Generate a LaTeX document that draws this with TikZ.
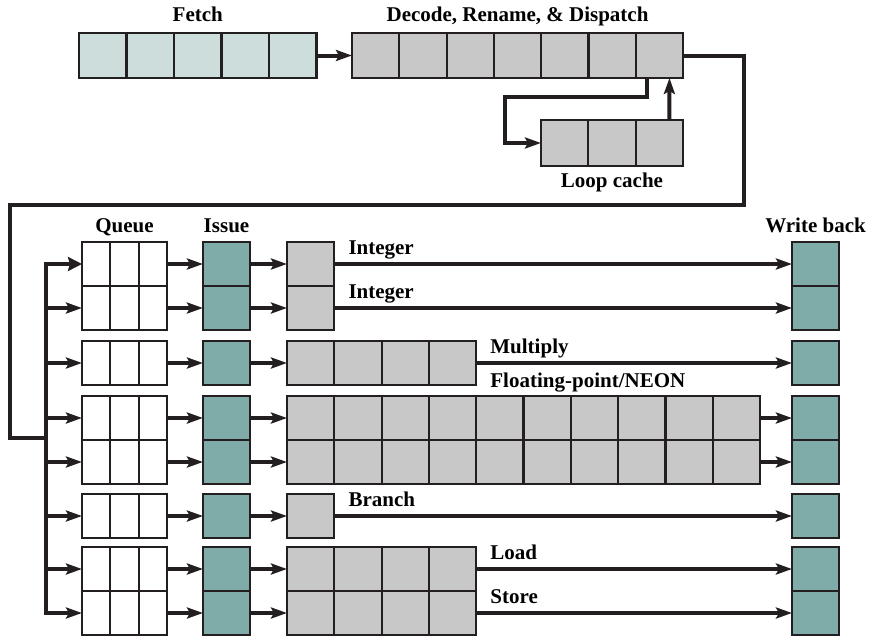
\documentclass[tikz,border=0pt]{standalone}
\usepackage{fontspec}
\setmainfont{Liberation Serif}
\usetikzlibrary{arrows.meta}
\definecolor{fetchfill}{RGB}{205,221,219}
\definecolor{stagegray}{RGB}{200,200,200}
\definecolor{wbteal}{RGB}{127,172,168}
\definecolor{ink}{RGB}{35,31,32}

\begin{document}
\begin{tikzpicture}[x=1pt, y=-1pt, >={Stealth[length=16pt, width=11pt, inset=3pt]},
  font=\fontsize{21}{23}\selectfont\bfseries,
  cell/.style={draw=ink, line width=2.2pt, inner sep=0pt, outer sep=0pt},
  wire/.style={draw=ink, line width=4pt},
  flow/.style={wire, ->},
  bigflow/.style={wire, line cap=rect, -{Stealth[length=14pt, width=14pt, inset=2pt]}},
  lbl/.style={anchor=base west, inner sep=0pt},
  head/.style={anchor=base, inner sep=0pt}]
  \useasboundingbox (0,0) rectangle (874,637);
  % a row of #4 cells named #1-1 ... #1-#4: left edge #2, top #3, cell width #5, height #6, fill #7
  \newcommand{\cellrow}[7]{%
    \foreach \i in {1,...,#4}
      \node[cell, fill=#7, minimum width=#5pt, minimum height=#6pt] (#1-\i)
        at ({#2+(\i-0.5)*#5}, {#3+0.5*#6}) {};
  }
  % ---------------------------------------------------------------- front end
  \cellrow{fetch}{79}{33}{5}{47.5}{45}{fetchfill}
  \cellrow{dec}{352}{33}{7}{47.3}{45}{stagegray}
  \cellrow{loop}{541}{120}{3}{47.3}{46}{stagegray}
  \node[head] at ([yshift=12pt]fetch-3.north) {Fetch};
  \node[head] at ([yshift=12pt]dec-4.north) {Decode, Rename, \& Dispatch};
  \node[head] at ([yshift=-21pt]loop-2.south) {Loop cache};
  \draw[flow] (fetch-5.east) -- (dec-1.west);
  % loop cache in and out
  \coordinate (lc-turn) at (505,97);
  \draw[flow] ([xshift=-12pt]dec-7.south) |- (lc-turn) |- (loop-1.west);
  \draw[flow] ([xshift=10pt]loop-3.north) -- ([xshift=10pt]dec-7.south);
  % round to the issue queues
  \coordinate (rtop) at (744,205);
  \coordinate (ltop) at (10,205);
  \coordinate (join) at (46,438);
  \draw[wire] (dec-7.east) -| (rtop) -- (ltop) |- (join);
  % ---------------------------------------------------------------- queue / issue / execute / write back
  \foreach \row/\yt/\cnt in {1/242/1, 2/286/1, 3/341/4, 4/396/10, 5/440/10, 6/494/1, 7/547/4, 8/591/4} {
    \cellrow{q\row}{82}{\yt}{3}{28.33}{44}{white}
    \cellrow{is\row}{203}{\yt}{1}{47}{44}{wbteal}
    \cellrow{ex\row}{287}{\yt}{\cnt}{47.3}{44}{stagegray}
    \cellrow{wb\row}{792}{\yt}{1}{47}{44}{wbteal}
    \coordinate (bus\row) at (46,\yt+22);
    \draw[flow] (q\row-3.east) -- (is\row-1.west);
    \draw[flow] (is\row-1.east) -- (ex\row-1.west);
    \draw[flow] (ex\row-\cnt.east) -- (wb\row-1.west);
  }
  \draw[bigflow] (bus8) -- (bus1) -- (q1-1.west);
  \foreach \row in {2,...,8}
    \draw[flow] (bus\row) -- (q\row-1.west);
  \node[head] at ([yshift=10pt]q1-2.north) {Queue};
  \node[head] at ([yshift=10pt]is1-1.north) {Issue};
  \node[head] at ([yshift=10pt]wb1-1.north) {Write back};
  % unit names over the lines
  \node[lbl] at ([xshift=14pt, yshift=10pt]ex1-1.east) {Integer};
  \node[lbl] at ([xshift=14pt, yshift=10pt]ex2-1.east) {Integer};
  \node[lbl] at ([xshift=14pt, yshift=10pt]ex3-4.east) {Multiply};
  \node[lbl] at ([xshift=14pt, yshift=9pt]ex4-4.north east) {Floating-point/NEON};
  \node[lbl] at ([xshift=14pt, yshift=10pt]ex6-1.east) {Branch};
  \node[lbl] at ([xshift=14pt, yshift=10pt]ex7-4.east) {Load};
  \node[lbl] at ([xshift=14pt, yshift=10pt]ex8-4.east) {Store};
\end{tikzpicture}
\end{document}
